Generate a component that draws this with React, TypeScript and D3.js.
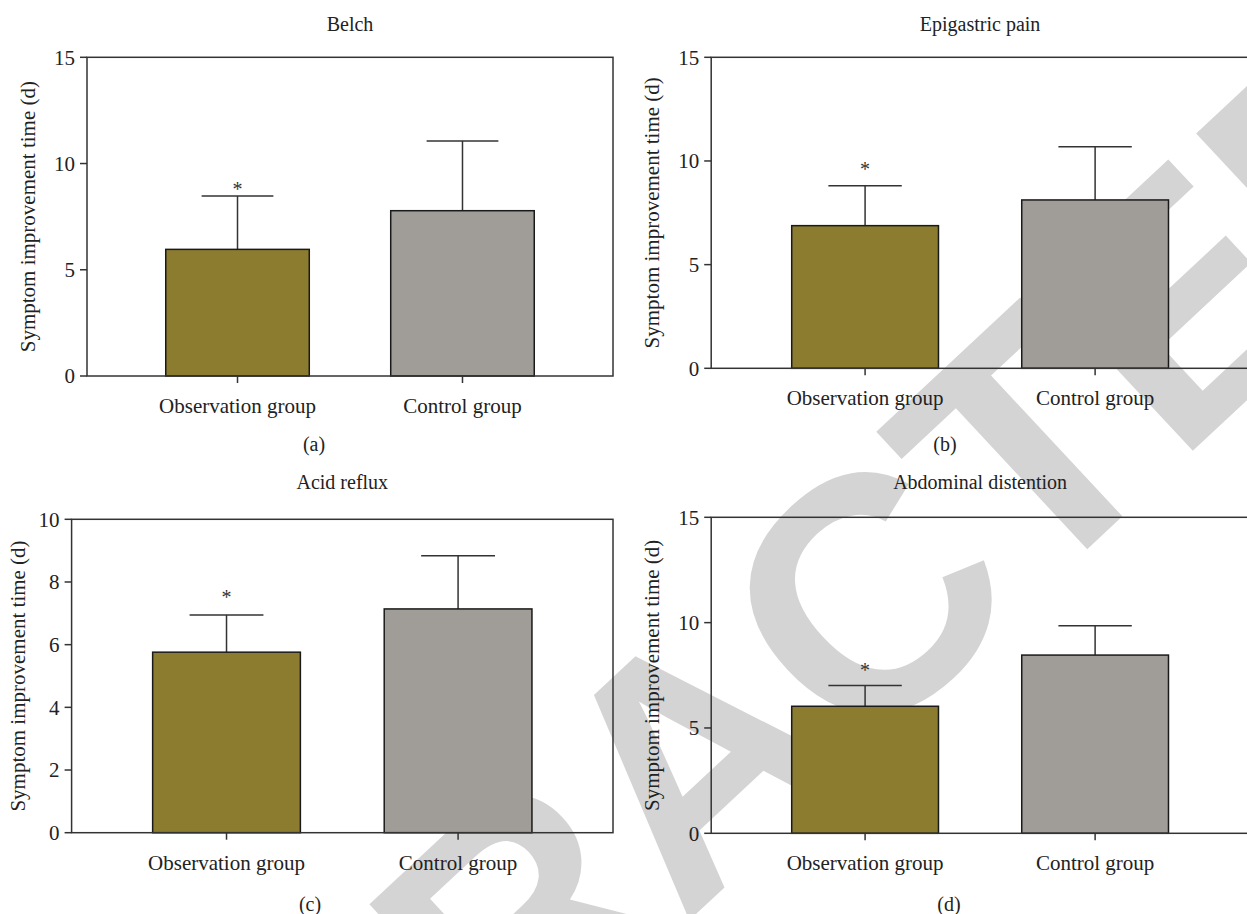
import React from "react";
import * as d3 from "d3";

// ---- data ----
const panelTitles = ["Belch", "Epigastric pain", "Acid reflux", "Abdominal distention"];
const panelTags = ["(a)", "(b)", "(c)", "(d)"];
const groups = ["Observation group", "Control group"];
const observationMeans = [5.96, 6.88, 5.76, 6.03];
const observationErr = [2.51, 1.93, 1.19, 0.99];
const controlMeans = [7.78, 8.12, 7.14, 8.46];
const controlErr = [3.28, 2.57, 1.7, 1.39];
const yMaxes = [15, 15, 10, 15];
const yTickSteps = [5, 5, 2, 5];
const asteriskValues = [8.99, 9.77, 7.64, 7.9];
const yAxisLabel = "Symptom improvement time (d)";
const watermark = "RETRACTED";

// ---- layout ----
const W = 1247;
const H = 914;
const layouts = [
  { left: 87, right: 613, top: 57.3, bottom: 376, yLabelX: 27.7, tagX: 314, tagY: 451, titleY: 31 },
  { left: 711.2, right: 1249, top: 57.3, bottom: 368.3, yLabelX: 652, tagX: 945, tagY: 451, titleY: 31 },
  { left: 71.6, right: 613, top: 519.3, bottom: 832.7, yLabelX: 17.8, tagX: 310, tagY: 911, titleY: 489 },
  { left: 711.2, right: 1249, top: 517.3, bottom: 833.3, yLabelX: 652, tagX: 949, tagY: 911, titleY: 489 },
];

const SERIF = "'Liberation Serif', 'Times New Roman', serif";
const AXIS = "#333";
const fills = ["#8c7c2f", "#a09c98"];

function Panel({ i }: { i: number }) {
  const L = layouts[i];
  const x = d3.scaleBand<string>().domain(groups).range([L.left, L.right]).paddingInner(0.362).paddingOuter(0.35);
  const y = d3.scaleLinear().domain([0, yMaxes[i]]).range([L.bottom, L.top]);
  const ticks = d3.range(0, yMaxes[i] + 0.001, yTickSteps[i]);
  const means = [observationMeans[i], controlMeans[i]];
  const errs = [observationErr[i], controlErr[i]];
  const bw = x.bandwidth();
  const titleX = (L.left + L.right) / 2;
  return (
    <g>
      <text x={titleX} y={L.titleY} textAnchor="middle" fontFamily={SERIF} fontSize={20} fill="#222">
        {panelTitles[i]}
      </text>
      {groups.map((g, k) => {
        const cx = (x(g) as number) + bw / 2;
        const top = y(means[k] + errs[k]);
        return (
          <g key={g}>
            <line x1={cx} x2={cx} y1={y(means[k])} y2={top} stroke={AXIS} strokeWidth={1.5} />
            <line x1={cx - bw / 4} x2={cx + bw / 4} y1={top} y2={top} stroke={AXIS} strokeWidth={1.5} />
            <rect
              x={x(g)}
              y={y(means[k])}
              width={bw}
              height={y(0) - y(means[k])}
              fill={fills[k]}
              stroke="#1a1a1a"
              strokeWidth={1.5}
            />
          </g>
        );
      })}
      <text
        x={(x(groups[0]) as number) + bw / 2}
        y={y(asteriskValues[i]) + 10.6}
        textAnchor="middle"
        fontFamily={SERIF}
        fontSize={20}
        fill="#333"
      >
        *
      </text>
      <rect x={L.left} y={L.top} width={L.right - L.left} height={L.bottom - L.top} fill="none" stroke={AXIS} strokeWidth={1.5} />
      {ticks.map((t) => (
        <g key={t}>
          <line x1={L.left - 7} x2={L.left} y1={y(t)} y2={y(t)} stroke={AXIS} strokeWidth={1.5} />
          <text x={L.left - 12} y={y(t)} dy="0.35em" textAnchor="end" fontFamily={SERIF} fontSize={21} fill="#222">
            {t}
          </text>
        </g>
      ))}
      {groups.map((g) => {
        const cx = (x(g) as number) + bw / 2;
        return (
          <g key={g}>
            <line x1={cx} x2={cx} y1={L.bottom} y2={L.bottom + 7} stroke={AXIS} strokeWidth={1.5} />
            <text x={cx} y={L.bottom + 37} textAnchor="middle" fontFamily={SERIF} fontSize={21} fill="#222">
              {g}
            </text>
          </g>
        );
      })}
      <text
        transform={`translate(${L.yLabelX},${(L.top + L.bottom) / 2}) rotate(-90)`}
        dy="0.35em"
        textAnchor="middle"
        fontFamily={SERIF}
        fontSize={21}
        fill="#222"
      >
        {yAxisLabel}
      </text>
      <text x={L.tagX} y={L.tagY} textAnchor="middle" fontFamily={SERIF} fontSize={20} fill="#222">
        {panelTags[i]}
      </text>
    </g>
  );
}

export default function App() {
  return (
    <svg
      width={W}
      height={H}
      viewBox={`0 0 ${W} ${H}`}
      style={{ position: "absolute", left: 0, top: 0, background: "#fff" }}
    >
      <rect x={0} y={0} width={W} height={H} fill="#fff" />
      <text
        transform="translate(770,845) rotate(-43)"
        textAnchor="middle"
        fontFamily="'Liberation Sans', Arial, sans-serif"
        fontWeight="bold"
        fontSize={334}
        letterSpacing={-4}
        fill="#d4d4d4"
      >
        {watermark}
      </text>
      {[0, 1, 2, 3].map((i) => (
        <Panel key={i} i={i} />
      ))}
    </svg>
  );
}
